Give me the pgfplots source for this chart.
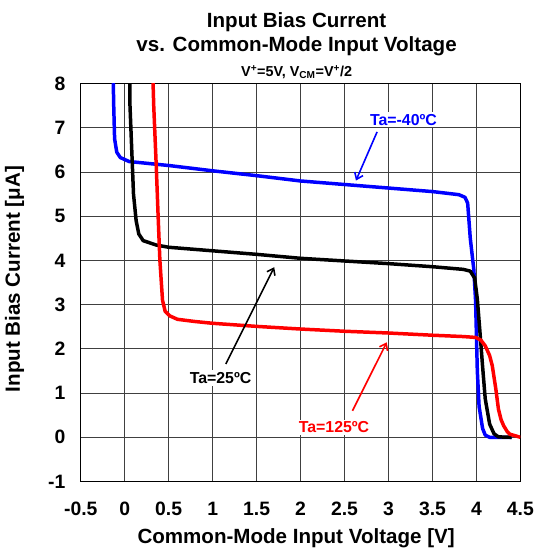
\documentclass[border=0pt]{standalone}
\usepackage{fontspec}
\setmainfont{Liberation Sans}
\usepackage{pgfplots}
\pgfplotsset{compat=1.18}
\usetikzlibrary{arrows.meta}
\begin{document}
\begin{tikzpicture}[x=1bp,y=1bp]
\begin{axis}[
  at={(0,0)}, anchor=south west,
  scale only axis, width=441bp, height=399bp,
  xmin=-0.5, xmax=4.5, ymin=-1, ymax=8,
  xtick={-0.5,0,0.5,1,1.5,2,2.5,3,3.5,4,4.5},
  ytick={-1,0,1,2,3,4,5,6,7,8},
  grid=major, major grid style={black!75, line width=0.9bp},
  axis line style={black, line width=1.4bp},
  major tick length=0pt,
  tick label style={font=\fontsize{19.5}{19.5}\selectfont\bfseries},
  /pgf/number format/assume math mode=true,
  xticklabel style={yshift=-17bp},
  yticklabel style={xshift=-12bp},
  clip=true,
]
% Ta = -40 C
\addplot[blue, line width=3.5bp, line join=round] coordinates {
(-0.135,8.5) (-0.125,7.5) (-0.115,6.75) (-0.09,6.45) (-0.05,6.33) (0.05,6.24)
(0.5,6.15) (1.0,6.03) (1.5,5.92) (2.0,5.80) (2.5,5.72) (3.0,5.64) (3.5,5.56)
(3.8,5.49) (3.87,5.43) (3.9,5.30) (3.93,4.5) (3.97,3.8) (3.99,3.1) (4.01,1.5)
(4.03,0.7) (4.07,0.2) (4.10,0.05) (4.15,0) (4.4,0)
};
% Ta = 25 C
\addplot[black, line width=3.5bp, line join=round] coordinates {
(0.055,8.5) (0.06,7.5) (0.08,6.5) (0.10,5.5) (0.13,4.9) (0.16,4.6) (0.21,4.45)
(0.36,4.35) (0.5,4.30) (1.0,4.22) (1.5,4.14) (2.0,4.05) (2.5,3.99) (3.0,3.93)
(3.5,3.86) (3.85,3.80) (3.93,3.76) (3.98,3.60) (4.01,3.13) (4.04,2.38) (4.07,1.6)
(4.10,0.87) (4.15,0.30) (4.20,0.08) (4.25,0.01) (4.40,0)
};
% Ta = 125 C
\addplot[red, line width=3.5bp, line join=round] coordinates {
(0.315,8.5) (0.33,7.5) (0.36,6.07) (0.38,5.0) (0.40,4.0) (0.43,3.1) (0.46,2.85)
(0.51,2.75) (0.6,2.67) (0.8,2.62) (1.0,2.58) (1.5,2.51) (2.0,2.45) (2.5,2.40)
(3.0,2.36) (3.5,2.31) (3.85,2.28) (3.99,2.26) (4.05,2.20) (4.10,2.07) (4.15,1.85)
(4.18,1.62) (4.22,1.10) (4.25,0.64) (4.28,0.40) (4.31,0.26) (4.35,0.13) (4.38,0.07)
(4.45,0.03) (4.5,0)
};
\node[fill=white, text=blue, inner sep=2bp, font=\fontsize{16}{16}\selectfont\bfseries] at (axis cs:3.17,7.19) {Ta=-40ºC};
\draw[blue, line width=1.6bp, -{Straight Barb[length=6bp,width=9bp]}] (axis cs:2.87,6.91) -- (axis cs:2.63,5.81);
\node[fill=white, text=black, inner sep=2bp, font=\fontsize{16}{16}\selectfont\bfseries] at (axis cs:1.09,1.34) {Ta=25ºC};
\draw[black, line width=1.6bp, -{Straight Barb[length=6bp,width=9bp]}] (axis cs:1.15,1.66) -- (axis cs:1.70,3.85);
\node[fill=white, text=red, inner sep=2bp, font=\fontsize{16}{16}\selectfont\bfseries] at (axis cs:2.38,0.23) {Ta=125ºC};
\draw[red, line width=1.6bp, -{Straight Barb[length=6bp,width=9bp]}] (axis cs:2.59,0.60) -- (axis cs:2.98,2.15);
\end{axis}
\node[anchor=base, font=\fontsize{20.7}{20.7}\selectfont\bfseries] at (216.5,455) {Input Bias Current};
\node[anchor=base, font=\fontsize{20.7}{20.7}\selectfont\bfseries] at (216.5,431) {vs. Common-Mode Input Voltage};
\node[anchor=base, font=\fontsize{14.5}{14.5}\selectfont\bfseries] at (216.5,406) {V\textsuperscript{+}=5V, V\textsubscript{CM}=V\textsuperscript{+}/2};
\node[anchor=base, font=\fontsize{20.7}{20.7}\selectfont\bfseries] at (216,-62) {Common-Mode Input Voltage [V]};
\node[anchor=base, rotate=90, font=\fontsize{20.7}{20.7}\selectfont\bfseries] at (-61,203) {Input Bias Current [μA]};
\useasboundingbox (-81,-68) rectangle (460,483);
\end{tikzpicture}
\end{document}
